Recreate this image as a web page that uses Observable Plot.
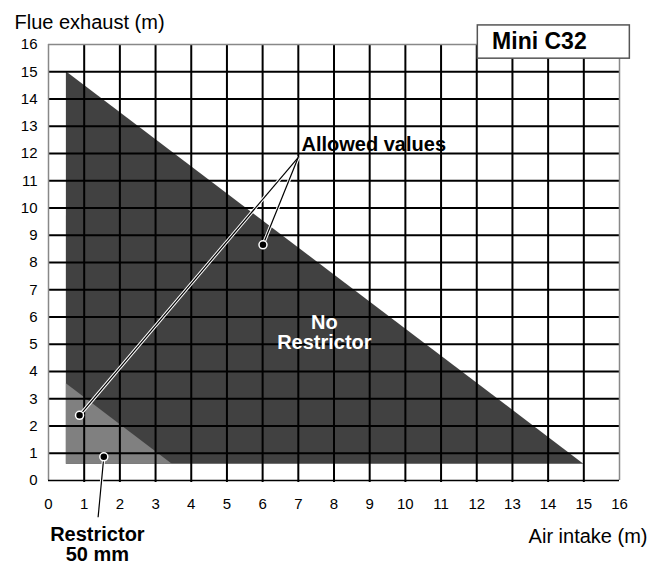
<!DOCTYPE html>
<html>
<head>
<meta charset="utf-8">
<script src="https://cdn.jsdelivr.net/npm/d3@7"></script>
<script src="https://cdn.jsdelivr.net/npm/@observablehq/plot@0.6"></script>
<style>
  html, body { margin: 0; padding: 0; background: #ffffff; }
  #chart svg { display: block; }
</style>
</head>
<body>
<div id="chart"></div>
<script>
// ---- data ----
const xTicks = [0, 1, 2, 3, 4, 5, 6, 7, 8, 9, 10, 11, 12, 13, 14, 15, 16];
const yTicks = [0, 1, 2, 3, 4, 5, 6, 7, 8, 9, 10, 11, 12, 13, 14, 15, 16];
const gridLines = [1, 2, 3, 4, 5, 6, 7, 8, 9, 10, 11, 12, 13, 14, 15];
const baseY = 0.6;
const noRestrictorEdge = [{x: 0.5, y: 15}, {x: 15, y: 0.6}];
const restrictorEdge = [{x: 0.5, y: 3.55}, {x: 3.47, y: 0.6}];
const allowedHub = {x: 7.0, y: 11.86};
const allowedDots = [{x: 6.01, y: 8.65}, {x: 0.87, y: 2.39}];
const restrictorDot = {x: 1.55, y: 0.87};
const restrictorLabelEnd = {x: 1.39, y: -1.35};
const title = "Mini C32";
const titleBox = {x1: 12.03, x2: 16.29, y1: 15.48, y2: 16.7};
const yLabel = "Flue exhaust (m)";
const xLabel = "Air intake (m)";

const font = "'Liberation Sans', Arial, Helvetica, sans-serif";
const links = allowedDots.map(d => ({x1: allowedHub.x, y1: allowedHub.y, x2: d.x, y2: d.y}))
  .concat([{x1: restrictorDot.x, y1: restrictorDot.y, x2: restrictorLabelEnd.x, y2: restrictorLabelEnd.y}]);
const dots = allowedDots.concat([restrictorDot]);

const chart = Plot.plot({
  width: 661,
  height: 565,
  marginLeft: 48,
  marginRight: 42,
  marginTop: 44,
  marginBottom: 85,
  style: {fontFamily: font, background: "#ffffff", color: "#000000", overflow: "visible"},
  x: {domain: [0, 16], label: null},
  y: {domain: [0, 16], label: null},
  marks: [
    Plot.areaY(noRestrictorEdge, {x: "x", y1: baseY, y2: "y", fill: "#414141"}),
    Plot.areaY(restrictorEdge, {x: "x", y1: baseY, y2: "y", fill: "#808080"}),
    Plot.ruleX(gridLines, {y1: -0.07, y2: 16, stroke: "#000000", strokeWidth: 2}),
    Plot.ruleY(gridLines, {stroke: "#000000", strokeWidth: 2}),
    Plot.ruleX([0, 16], {stroke: "#888888", strokeWidth: 1.5}),
    Plot.ruleY([16], {stroke: "#888888", strokeWidth: 1.5}),
    Plot.ruleY([0], {stroke: "#000000", strokeWidth: 1.5}),
    Plot.axisX({ticks: xTicks, tickSize: 0, tickPadding: 18, fontSize: 15, label: null}),
    Plot.axisY({ticks: yTicks, tickSize: 0, tickPadding: 11, fontSize: 15, label: null}),
    Plot.link(links, {x1: "x1", y1: "y1", x2: "x2", y2: "y2", stroke: "#ffffff", strokeWidth: 3.2}),
    Plot.link(links, {x1: "x1", y1: "y1", x2: "x2", y2: "y2", stroke: "#000000", strokeWidth: 1.2}),
    Plot.dot(dots, {x: "x", y: "y", r: 4, fill: "#000000", stroke: "#ffffff", strokeWidth: 1.5}),
    Plot.text(["Allowed values"], {x: 7.09, y: 12.11, text: d => d, textAnchor: "start", lineAnchor: "bottom", fontSize: 20, fontWeight: "bold", fill: "#000000"}),
    Plot.text(["No\nRestrictor"], {x: 7.73, y: 4.83, text: d => d, textAnchor: "middle", lineAnchor: "bottom", lineHeight: 1, fontSize: 20, fontWeight: "bold", fill: "#ffffff"}),
    Plot.text(["Restrictor\n50 mm"], {x: 1.37, y: -2.97, text: d => d, textAnchor: "middle", lineAnchor: "bottom", lineHeight: 1, fontSize: 20, fontWeight: "bold", fill: "#000000"}),
    Plot.rect([titleBox], {x1: "x1", x2: "x2", y1: "y1", y2: "y2", fill: "#ffffff", stroke: "#555555", strokeWidth: 1.5}),
    Plot.text([title], {x: 12.43, y: 15.85, text: d => d, textAnchor: "start", lineAnchor: "bottom", fontSize: 23, fontWeight: "bold", fill: "#000000"}),
    Plot.text([yLabel], {frameAnchor: "top-left", text: d => d, dx: -34, dy: -16, textAnchor: "start", lineAnchor: "bottom", fontSize: 20, fill: "#000000"}),
    Plot.text([xLabel], {frameAnchor: "bottom-right", text: d => d, dx: 28, dy: 62, textAnchor: "end", lineAnchor: "bottom", fontSize: 20, fill: "#000000"})
  ]
});
document.getElementById("chart").appendChild(chart);
</script>
</body>
</html>
